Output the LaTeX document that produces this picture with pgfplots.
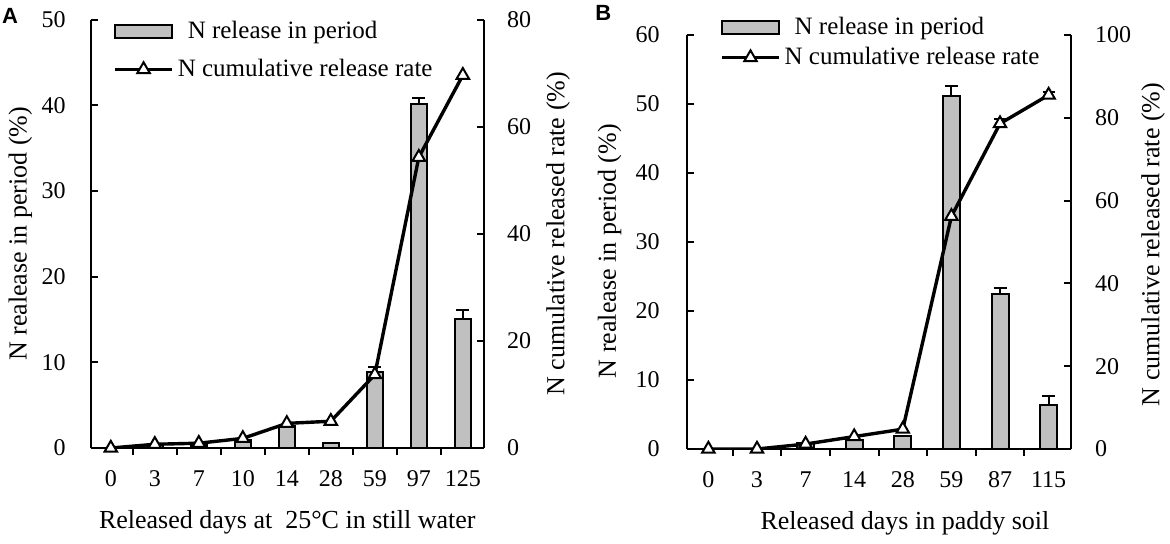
\documentclass[border=0pt]{standalone}
\usepackage{pgfplots}
\pgfplotsset{compat=1.18}
\usepackage{fontspec}
\setmainfont{Liberation Serif}
\newfontfamily\panelfont{Liberation Sans}
\definecolor{barfill}{RGB}{192,192,192}
\pgfplotsset{
  base/.style={
    scale only axis,
    axis line style={line width=1pt, black},
    tick style={line width=1pt, black},
    tick align=inside,
    major tick length=3.5pt,
    ticklabel style={font=\fontsize{12}{14}\selectfont, inner sep=0pt},
    label style={font=\fontsize{13}{15}\selectfont},
    /pgf/number format/assume math mode=true,
    ymin=0,
  },
  leftax/.style={
    base,
    axis x line*=bottom, axis y line*=left,
    xticklabels={},
    extra x tick style={major tick length=0pt},
    xticklabel style={anchor=center, yshift=-15.5pt},
    ybar, bar width=#1,
  },
  rightax/.style={
    base,
    axis y line*=right, axis x line=none,
    legend cell align=left,
  },
  barstyle/.style={fill=barfill, draw=black, line width=1pt,
    error bars/y dir=plus, error bars/y explicit,
    error bars/error mark=|,
    error bars/error bar style={line width=1pt, black},
    error bars/error mark options={line width=1pt, black, mark size=3.25pt}},
  linestyle/.style={black, line width=1.7pt, mark=triangle*, mark size=3.6pt,
    mark options={fill=white, draw=black, line width=1pt, solid},
    error bars/y dir=plus, error bars/y explicit,
    error bars/error mark=|,
    error bars/error bar style={line width=1pt, black},
    error bars/error mark options={line width=1pt, black, mark size=3pt}},
  lineleg/.style={legend image code/.code={\draw[mark repeat=2,mark phase=2,##1] plot coordinates {(0pt,0pt) (14.25pt,0pt) (28.5pt,0pt)};}},
  barleg/.style={legend image code/.code={\draw[fill=barfill, draw=black, line width=1pt] (0pt,-3.25pt) rectangle (28.5pt,3.25pt);}},
}
\begin{document}
\begin{tikzpicture}
\useasboundingbox (0pt,0pt) rectangle (585pt,-271.5pt);
% ---------------- Panel A ----------------
\begin{axis}[leftax=8pt,
  at={(45.5pt,-224pt)}, anchor=south west, width=196.25pt, height=214.25pt,
  xmin=-0.45, xmax=8.47, ymax=50, ytick={0,10,...,50},
  xtick={0.5,1.5,...,7.5},
  extra x ticks={0,1,2,3,4,5,6,7,8},
  extra x tick labels={0,3,7,10,14,28,59,97,125},
  yticklabel style={anchor=east, xshift=-12.5pt},
  xlabel={Released days at\ \ 25°C in still water},
  xlabel style={at={(axis description cs:0.5,-0.173)}, anchor=center},
  ylabel={N realease in period (\%)},
  ylabel style={at={(axis description cs:-0.180,0.5)}, anchor=center},
]
\addplot[barstyle] coordinates {
 (0,0) (1,0.3) (2,0.3) (3,0.9) (4,2.6) (5,0.6)
 (6,8.9) +- (0,0.6) (7,40.1) +- (0,0.7) (8,15.1) +- (0,1.0)};
\end{axis}
\begin{axis}[rightax,
  at={(45.5pt,-224pt)}, anchor=south west, width=196.25pt, height=214.25pt,
  xmin=-0.45, xmax=8.47, ymax=80, ytick={0,20,...,80},
  yticklabel style={anchor=west, xshift=11.6pt},
  ylabel={N cumulative released rate (\%)},
  ylabel style={at={(axis description cs:1.190,0.5)}, anchor=center},
  legend style={at={(axis description cs:0.056,1.007)}, anchor=north west,
    draw=none, fill=none, inner sep=0pt, row sep=5pt,
    font=\fontsize{12.5}{15}\selectfont},
]
\addlegendimage{barleg}
\addlegendentry{\hspace*{5pt}N release in period}
\addplot[lineleg, linestyle] coordinates {
 (0,0) (1,0.7) (2,0.9) (3,1.8) (4,4.6) (5,5.0) (6,13.7) (7,54.3) (8,69.6)};
\addlegendentry{N cumulative release rate}
\end{axis}
% ---------------- Panel B ----------------
\begin{axis}[leftax=8.5pt,
  at={(343.25pt,-224.5pt)}, anchor=south west, width=192pt, height=207pt,
  xmin=-0.45, xmax=7.45, ymax=60, ytick={0,10,...,60},
  xtick={0.5,1.5,...,6.5},
  extra x ticks={0,1,2,3,4,5,6,7},
  extra x tick labels={0,3,7,14,28,59,87,115},
  yticklabel style={anchor=east, xshift=-13.25pt},
  xlabel={Released days in paddy soil},
  xlabel style={at={(axis description cs:0.569,-0.18)}, anchor=center},
  ylabel={N realease in period (\%)},
  ylabel style={at={(axis description cs:-0.200,0.478)}, anchor=center},
]
\addplot[barstyle] coordinates {
 (0,0) (1,0) (2,0.8) (3,1.3) (4,1.9)
 (5,51.1) +- (0,1.5) (6,22.4) +- (0,0.9) (7,6.4) +- (0,1.3)};
\end{axis}
\begin{axis}[rightax,
  at={(343.25pt,-224.5pt)}, anchor=south west, width=192pt, height=207pt,
  xmin=-0.45, xmax=7.45, ymax=100, ytick={0,20,...,100},
  yticklabel style={anchor=west, xshift=12.15pt},
  ylabel={N cumulative released rate (\%)},
  ylabel style={at={(axis description cs:1.215,0.494)}, anchor=center},
  legend style={at={(axis description cs:0.087,1.054)}, anchor=north west,
    draw=none, fill=none, inner sep=0pt, row sep=1pt,
    font=\fontsize{12.5}{15}\selectfont},
]
\addlegendimage{barleg}
\addlegendentry{\hspace*{5pt}N release in period}
\addplot[lineleg, linestyle] coordinates {
 (0,0) (1,0) (2,1.2) (3,3.0) (4,4.8) (5,56.2) (6,78.6) +- (0,1.0) (7,85.5) +- (0,0.8)};
\addlegendentry{N cumulative release rate}
\end{axis}
\node[font=\panelfont\bfseries\fontsize{11}{12}\selectfont] at (5pt,-8pt) {A};
\node[font=\panelfont\bfseries\fontsize{11}{12}\selectfont] at (301.7pt,-6.7pt) {B};
\end{tikzpicture}
\end{document}
